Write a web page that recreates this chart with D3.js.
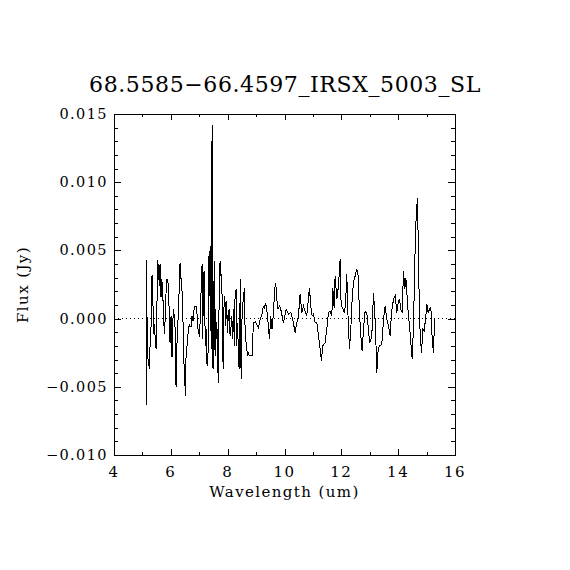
<!DOCTYPE html>
<html>
<head>
<meta charset="utf-8">
<script src="https://cdn.jsdelivr.net/npm/d3@7"></script>
<style>
  body { margin: 0; background: #fff; }
  svg text { font-family: "DejaVu Serif", "Liberation Serif", serif; fill: #000; }
  .axis path, .axis line { stroke: #000; shape-rendering: crispEdges; }
</style>
</head>
<body>
<svg id="chart"></svg>
<script>
// Spectrum: wavelength (um) and flux (Jy)
const wavelength = [
  5.127, 5.140, 5.150, 5.185, 5.221, 5.244, 5.268, 5.303, 5.338, 5.361,
  5.385, 5.408, 5.444, 5.479, 5.502, 5.538, 5.561, 5.596, 5.620, 5.655,
  5.678, 5.714, 5.737, 5.772, 5.807, 5.831, 5.866, 5.901, 5.925, 5.948,
  5.972, 6.007, 6.042, 6.066, 6.089, 6.124, 6.160, 6.183, 6.207, 6.242,
  6.277, 6.300, 6.324, 6.347, 6.382, 6.418, 6.441, 6.465, 6.488, 6.511,
  6.535, 6.558, 6.594, 6.629, 6.653, 6.676, 6.711, 6.746, 6.782, 6.817,
  6.852, 6.887, 6.922, 6.958,
  6.981, 7.005, 7.040, 7.075, 7.099, 7.122, 7.145, 7.169, 7.192, 7.216,
  7.239, 7.263, 7.298, 7.321, 7.345, 7.368, 7.380, 7.404, 7.427, 7.451,
  7.462, 7.486, 7.509, 7.533, 7.556, 7.580, 7.603, 7.627, 7.650, 7.674,
  7.697, 7.721, 7.732, 7.756, 7.779, 7.803, 7.826, 7.838, 7.861, 7.885,
  7.908, 7.932, 7.967, 7.991, 8.026, 8.049, 8.085, 8.120, 8.143, 8.167,
  8.202, 8.237, 8.260, 8.296, 8.319, 8.354, 8.378, 8.413, 8.437, 8.449,
  8.472, 8.495, 8.519, 8.554, 8.589, 8.613, 8.636, 8.671, 8.706, 8.730,
  8.765,
  8.789, 8.859, 8.906, 8.977, 9.023, 9.082, 9.141, 9.200, 9.258, 9.293,
  9.329, 9.376, 9.423, 9.469, 9.516, 9.563, 9.610, 9.657, 9.692, 9.728,
  9.775, 9.822, 9.869, 9.915, 9.962, 10.009, 10.056, 10.138, 10.221, 10.291,
  10.373, 10.432, 10.491, 10.549, 10.608, 10.667, 10.725, 10.784, 10.878, 10.925,
  10.972, 11.019, 11.077, 11.136, 11.195, 11.253, 11.300, 11.347, 11.429, 11.488,
  11.547, 11.606, 11.664, 11.699, 11.746, 11.782, 11.840, 11.899, 11.958, 11.993,
  12.040, 12.098, 12.145, 12.192, 12.239, 12.286, 12.333, 12.380, 12.427, 12.486,
  12.545, 12.592, 12.638, 12.685, 12.732, 12.779, 12.838, 12.897, 12.955, 12.991,
  13.038, 13.085, 13.131, 13.178, 13.225, 13.249, 13.296, 13.343, 13.425, 13.484,
  13.542, 13.601, 13.660, 13.718, 13.765, 13.836, 13.894, 13.953, 14.000, 14.047,
  14.094, 14.141, 14.188, 14.235, 14.270, 14.305, 14.352, 14.399, 14.446, 14.493,
  14.540, 14.587, 14.634, 14.681, 14.728, 14.775, 14.822, 14.868, 14.915, 14.962,
  15.009, 15.056, 15.103, 15.150, 15.197, 15.244, 15.279
];

const flux = [
  0.00428, -0.00630, 0.00160, -0.00280, -0.00330, -0.00370, -0.00200, -0.00060, 0.00320, 0.00290,
  -0.00110, -0.00040, -0.00120, -0.00220, -0.00010, 0.00430, 0.00370, 0.00240, 0.00400, 0.00160,
  0.00290, 0.00210, 0.00040, -0.00110, 0.00020, 0.00190, 0.00290, 0.00260, 0.00160, 0.00020,
  -0.00180, 0.00020, -0.00280, -0.00060, 0.00070, 0.00020, -0.00110, -0.00500, -0.00230, -0.00060,
  0.00110, 0.00260, 0.00410, 0.00310, 0.00260, 0.00070, -0.00130, -0.00350, -0.00420, -0.00570,
  -0.00280, -0.00230, -0.00130, -0.00070, -0.00040, -0.00060, -0.00060, 0.00020, -0.00020, 0.00070,
  0.00090, 0.00090, 0.00030, -0.00080,
  -0.00103, -0.00132, 0.00020, 0.00288, 0.00398, -0.00152, 0.00215, 0.00349, 0.00068, -0.00200,
  -0.00078, -0.00323, -0.00347, -0.00152, 0.00484, 0.00166, 0.00533, 0.00020, -0.00225, 0.01418,
  -0.00249, -0.00371, 0.00166, 0.00423, -0.00274, 0.00068, -0.00152, -0.00078, -0.00347, -0.00469,
  0.00093, 0.00288, 0.00423, 0.00313, 0.00325, 0.00166, -0.00078, -0.00371, 0.00020, 0.00166,
  0.00117, -0.00054, 0.00130, -0.00103, 0.00044, 0.00068, -0.00127, -0.00054, 0.00020, -0.00152,
  0.00068, -0.00200, 0.00166, 0.00215, -0.00200, -0.00029, -0.00323, -0.00371, 0.00166, 0.00288,
  -0.00445, -0.00078, 0.00093, 0.00142, 0.00227, -0.00078, -0.00152, -0.00225, -0.00274, -0.00249,
  -0.00274,
  -0.00274, -0.00274, -0.00029, -0.00024, -0.00042, -0.00066, -0.00005, 0.00020, 0.00093, 0.00068,
  0.00117, 0.00068, -0.00029, -0.00152, 0.00020, -0.00078, 0.00044, 0.00215, 0.00264, 0.00142,
  0.00068, 0.00093, 0.00068, 0.00020, -0.00029, 0.00020, 0.00068, 0.00032, 0.00044, -0.00005,
  -0.00103, -0.00029, 0.00020, 0.00178, 0.00044, 0.00093, 0.00056, 0.00020, 0.00227, 0.00093,
  0.00020, 0.00032, -0.00029, -0.00029, -0.00127, -0.00225, -0.00310, -0.00200, -0.00176, -0.00078,
  0.00044, 0.00056, 0.00020, 0.00227, 0.00081, 0.00313, 0.00142, 0.00240, 0.00435, 0.00093,
  0.00081, 0.00044, 0.00093, 0.00325, -0.00005, -0.00225, -0.00078, 0.00142, 0.00264, 0.00313,
  0.00362, 0.00313, 0.00044, -0.00127, -0.00237, -0.00078, 0.00056, 0.00044, -0.00078, -0.00176,
  -0.00164, -0.00078, 0.00191, 0.00044, -0.00225, -0.00396, -0.00225, -0.00200, -0.00188, -0.00005,
  0.00093, -0.00005, -0.00054, -0.00127, 0.00044, 0.00142, 0.00166, 0.00044, 0.00117, 0.00142,
  0.00068, 0.00044, 0.00349, 0.00215, 0.00301, 0.00191, 0.00044, -0.00054, -0.00176, -0.00298,
  -0.00054, 0.00435, 0.00753, 0.00887, 0.00264, -0.00127, -0.00249, -0.00078, -0.00090, -0.00005,
  0.00105, 0.00044, 0.00068, 0.00081, -0.00152, -0.00249, -0.00005
];

const xTicks = [4, 6, 8, 10, 12, 14, 16];
const yTicks = [-0.010, -0.005, 0.000, 0.005, 0.010, 0.015];
const yTickLabels = ['\u22120.010', '\u22120.005', '0.000', '0.005', '0.010', '0.015'];
const titleText = '68.5585\u221266.4597_IRSX_5003_SL';

const width = 570, height = 570;
const margin = { top: 114, right: 115, bottom: 115, left: 114 };
const innerW = width - margin.left - margin.right;
const innerH = height - margin.top - margin.bottom;

const svg = d3.select('#chart')
  .attr('width', width)
  .attr('height', height);

const chart = svg.append('g')
  .attr('transform', `translate(${margin.left},${margin.top})`);

const xScale = d3.scaleLinear().domain([4, 16]).range([0, innerW]);
const yScale = d3.scaleLinear().domain([-0.010, 0.015]).range([innerH, 0]);

const minorX = d3.range(5, 16, 2);
const minorY = d3.range(-0.010, 0.0151, 0.001);

// tick marks only, labels are drawn separately
function addAxis(axisFn, scale, ticks, size, transform) {
  return chart.append('g')
    .attr('class', 'axis')
    .attr('transform', transform)
    .call(axisFn(scale).tickValues(ticks).tickSize(size).tickSizeOuter(0).tickFormat(() => ''));
}

// bottom
addAxis(d3.axisTop, xScale, minorX, 3, `translate(0,${innerH})`);
addAxis(d3.axisTop, xScale, xTicks, 6, `translate(0,${innerH})`);
// top
addAxis(d3.axisBottom, xScale, minorX, 3, 'translate(0,0)');
addAxis(d3.axisBottom, xScale, xTicks, 6, 'translate(0,0)');
// left
addAxis(d3.axisRight, yScale, minorY, 4, 'translate(0,0)');
addAxis(d3.axisRight, yScale, yTicks, 7, 'translate(0,0)');
// right
addAxis(d3.axisLeft, yScale, minorY, 4, `translate(${innerW},0)`);
addAxis(d3.axisLeft, yScale, yTicks, 7, `translate(${innerW},0)`);

chart.selectAll('.axis .domain').remove();

// frame
chart.append('rect')
  .attr('x', 0).attr('y', 0)
  .attr('width', innerW).attr('height', innerH)
  .attr('fill', 'none')
  .attr('stroke', '#000')
  .attr('shape-rendering', 'crispEdges');

// tick labels
chart.selectAll('.xlabel')
  .data(xTicks)
  .join('text')
    .attr('class', 'xlabel')
    .attr('x', d => xScale(d))
    .attr('y', innerH + 22)
    .attr('text-anchor', 'middle')
    .style('font-size', '15px')
    .style('letter-spacing', '1.5px')
    .text(d => d);

chart.selectAll('.ylabel')
  .data(yTicks)
  .join('text')
    .attr('class', 'ylabel')
    .attr('x', -6)
    .attr('y', d => yScale(d) + 5)
    .attr('text-anchor', 'end')
    .style('font-size', '14.5px')
    .style('letter-spacing', '1.4px')
    .text((d, i) => yTickLabels[i]);

// zero line, dotted
chart.append('line')
  .attr('x1', 0).attr('x2', innerW)
  .attr('y1', yScale(0)).attr('y2', yScale(0))
  .attr('stroke', '#000')
  .attr('stroke-width', 1)
  .attr('stroke-dasharray', '1,3')
  .attr('shape-rendering', 'crispEdges');

// spectrum
const points = wavelength.map((w, i) => ({ w: w, f: flux[i] }));
const line = d3.line()
  .x(d => xScale(d.w))
  .y(d => yScale(d.f));

chart.append('path')
  .datum(points)
  .attr('d', line)
  .attr('fill', 'none')
  .attr('stroke', '#000')
  .attr('stroke-width', 1)
  .attr('shape-rendering', 'crispEdges');

// titles
svg.append('text')
  .attr('x', 285)
  .attr('y', 92)
  .attr('text-anchor', 'middle')
  .style('font-size', '22px')
  .style('letter-spacing', '0.6px')
  .text(titleText);

svg.append('text')
  .attr('x', margin.left + innerW / 2)
  .attr('y', 497)
  .attr('text-anchor', 'middle')
  .style('font-size', '15px')
  .style('letter-spacing', '1.4px')
  .text('Wavelength (um)');

svg.append('text')
  .attr('transform', `translate(28, ${margin.top + innerH / 2}) rotate(-90)`)
  .attr('text-anchor', 'middle')
  .style('font-size', '15px')
  .style('letter-spacing', '1.4px')
  .text('Flux (Jy)');
</script>
</body>
</html>
